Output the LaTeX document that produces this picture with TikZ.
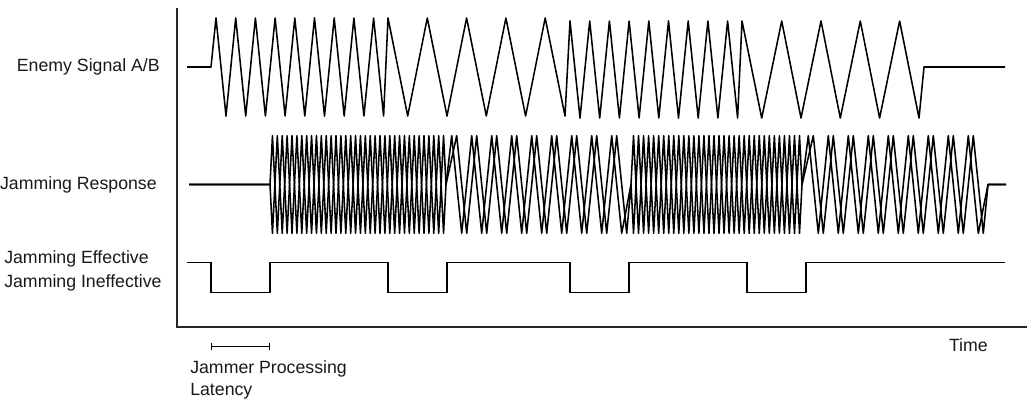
\documentclass[tikz,border=0pt]{standalone}
\usepackage{fontspec}
\setmainfont{Liberation Sans}
\usetikzlibrary{positioning, arrows.meta}

\tikzset{
  sig/.style={line width=1.1pt, line join=round, black},
  axisline/.style={line width=1.3pt, black!85},
  lbl/.style={font=\fontsize{12.6}{15.6}\selectfont, inner sep=0pt, text=black!90},
}

\begin{document}
\begin{tikzpicture}[x=0.025cm, y=-0.025cm]
  \useasboundingbox (0,0) rectangle (1032,408);
  % Eixos
  \draw[axisline] (177,8) -- (177,327) -- (1027,327);

  % Sinal inimigo: rapido / lento / rapido / lento
  \draw[sig] (187,67) -- (211,67)
    \foreach \k in {0,...,8} { -- ({216+19.7*\k},18) -- ({226+19.7*\k},116) }
    -- (388,18)
    \foreach \k in {0,...,3} { -- ({407.7+39.3*\k},116) -- ({427.3+39.3*\k},18) }
    -- (565,116)
    \foreach \k in {0,...,8} { -- ({570+19.7*\k},21) -- ({580+19.7*\k},118) }
    -- (742,21)
    \foreach \k in {0,...,3} { -- ({761.7+39.3*\k},118) -- ({781.7+39.3*\k},21) }
    -- (919,118) -- (924,67) -- (1005,67);

  % Resposta do jammer (duas linhas sobrepostas)
  \foreach \s/\d in {1/0, -1/5}
    \draw[sig] (189,184.5) -- (270,184.5)
      \foreach \k in {0,...,17} { -- ({270+9.778*(\k+0.25)},{184.5-48.8*\s}) -- ({270+9.778*(\k+0.75)},{184.5+48.8*\s}) }
      -- (446,184.5)
      \foreach \k in {0,...,8} { -- ({451.7+\d+20*\k},135.7) -- ({461.7+\d+20*\k},233.3) }
      -- (631,184.5)
      \foreach \k in {0,...,16} { -- ({631+10.06*(\k+0.25)},{184.5-48.8*\s}) -- ({631+10.06*(\k+0.75)},{184.5+48.8*\s}) }
      -- (802,184.5)
      \foreach \k in {0,...,8} { -- ({808.3+\d+20*\k},135.7) -- ({818.3+\d+20*\k},233.3) }
      -- (988,184.5) -- (1006,184.5);

  % Efetivo / inefetivo
  \draw[sig, line join=miter] (187,262.5)
    \foreach \a/\b in {211/270, 388/447, 570/629, 747/806}
      { -- (\a,262.5) -- (\a,292.5) -- (\b,292.5) -- (\b,262.5) }
    -- (1005,262.5);

  % Latencia
  \coordinate (latA) at (211,346.5);
  \coordinate (latB) at (270,346.5);
  \draw[line width=0.8pt, {Bar[width=5pt]}-{Bar[width=5pt]}] (latA) -- (latB);

  % Labels
  \node[lbl, anchor=east] (enemy) at (160,67) {Enemy Signal A/B};
  \node[lbl, anchor=east] (resp) at (157,185) {Jamming Response};
  \node[lbl, anchor=west] (eff) at (4,258.5) {Jamming Effective};
  \node[lbl, anchor=west] (ineff) at (4,282.5) {Jamming Ineffective};
  \node[lbl, anchor=east] (time) at (988,345) {Time};
  \node[lbl, anchor=west, align=left] (latency) at (190,380) {Jammer Processing\\Latency};
\end{tikzpicture}
\end{document}
